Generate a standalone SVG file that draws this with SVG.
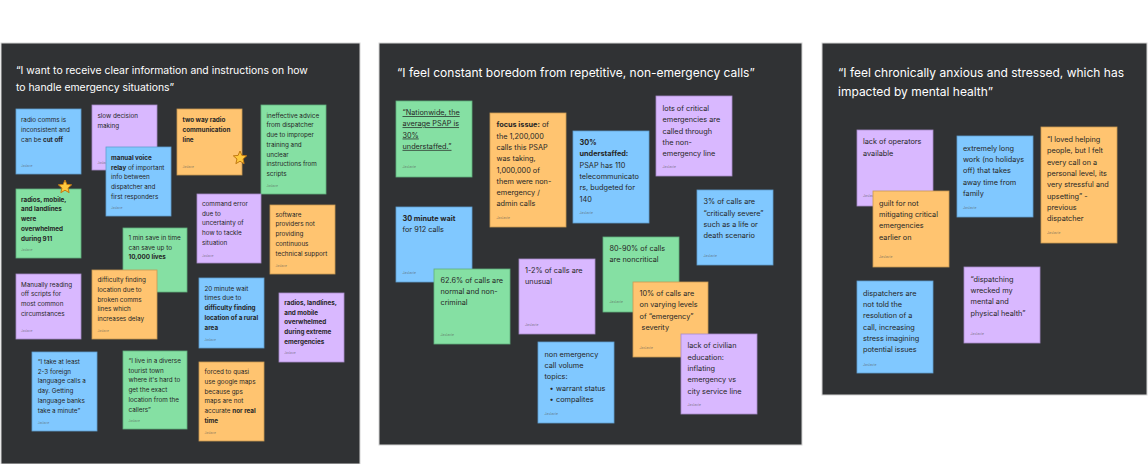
<svg xmlns="http://www.w3.org/2000/svg" width="1148" height="464" viewBox="0 0 1148 464">
<style>
.panel{fill:#303234;stroke:#d4d4d4;stroke-width:1}
.title{fill:#ffffff;font-family:Inter,"Noto Sans",sans-serif}
.tl{font-size:10.4px}
.tm{font-size:12px}
.b{fill:#80c8ff;stroke:#5f9fcf;stroke-width:0.8}
.p{fill:#d9b8ff;stroke:#a78bc9;stroke-width:0.8}
.o{fill:#ffc470;stroke:#c99a52;stroke-width:0.8}
.g{fill:#85e0a3;stroke:#5fb07c;stroke-width:0.8}
.ns{fill:#262626;font-family:Inter,"Noto Sans",sans-serif;font-size:6.3px}
.nm{fill:#262626;font-family:Inter,"Noto Sans",sans-serif;font-size:7.3px}
.bo{font-weight:700}
.lbl{fill:#555;fill-opacity:0.7;font-family:Inter,"Noto Sans",sans-serif;font-size:3px}
.lblm{fill:#555;fill-opacity:0.7;font-family:Inter,"Noto Sans",sans-serif;font-size:3.5px}
.star{fill:#ffc83d;stroke:#c27a12;stroke-width:1;stroke-linejoin:round}
</style>
<defs>
<path id="star" d="M0,-7 L1.88,-2.59 L6.66,-2.16 L3.04,0.99 L4.11,5.66 L0,3.2 L-4.11,5.66 L-3.04,0.99 L-6.66,-2.16 L-1.88,-2.59 Z"/>
</defs>
<rect width="1148" height="464" fill="#ffffff"/>

<!-- LEFT PANEL -->
<g id="panel-left">
<rect class="panel" x="1" y="43" width="359" height="421"/>
<text class="title tl" x="16" y="74.3">“I want to receive clear information and instructions on how<tspan x="16" dy="16.7">to handle emergency situations”</tspan></text>
</g>
<g id="l1"><rect class="b" x="16" y="109" width="65" height="65"/>
<text class="ns" x="21" y="122.3">radio comms is<tspan x="21" dy="9.7">inconsistent and</tspan><tspan x="21" dy="9.7">can be <tspan class="bo">cut off</tspan></tspan></text>
<text class="lbl" x="21" y="167.3">Jaslavie</text></g>
<g id="l2"><rect class="p" x="92" y="105" width="65" height="65"/>
<text class="ns" x="97.5" y="118.3">slow decision<tspan x="97.5" dy="9.7">making</tspan></text>
<text class="lbl" x="97.5" y="164">Jaslavie</text></g>
<g id="l3"><rect class="b" x="106" y="147" width="65" height="69"/>
<text class="ns" x="111" y="160"><tspan class="bo">manual voice</tspan><tspan x="111" dy="9.7"><tspan class="bo">relay</tspan> of important</tspan><tspan x="111" dy="9.7">info between</tspan><tspan x="111" dy="9.7">dispatcher and</tspan><tspan x="111" dy="9.7">first responders</tspan></text>
<text class="lbl" x="111" y="209">Jaslavie</text></g>
<g id="l4"><rect class="o" x="177" y="109" width="65" height="66"/>
<text class="ns bo" x="182.5" y="122.3">two way radio<tspan x="182.5" dy="9.7">communication</tspan><tspan x="182.5" dy="9.7">line</tspan></text>
<text class="lbl" x="182.5" y="167.5">Jaslavie</text></g>
<g id="l5"><rect class="g" x="261" y="105" width="65" height="89"/>
<text class="ns" x="266.5" y="117.7">ineffective advice<tspan x="266.5" dy="9.7">from dispatcher</tspan><tspan x="266.5" dy="9.7">due to improper</tspan><tspan x="266.5" dy="9.7">training and</tspan><tspan x="266.5" dy="9.7">unclear</tspan><tspan x="266.5" dy="9.7">instructions from</tspan><tspan x="266.5" dy="9.7">scripts</tspan></text>
<text class="lbl" x="266.5" y="186.7">Jaslavie</text></g>
<g id="l6"><rect class="g" x="16" y="189" width="65" height="69"/>
<text class="ns bo" x="21" y="201.7">radios, mobile,<tspan x="21" dy="9.7">and landlines</tspan><tspan x="21" dy="9.7">were</tspan><tspan x="21" dy="9.7">overwhelmed</tspan><tspan x="21" dy="9.7">during 911</tspan></text>
<text class="lbl" x="21" y="250.7">Jaslavie</text></g>
<g id="l7"><rect class="p" x="197" y="194" width="64" height="69"/>
<text class="ns" x="202" y="206">command error<tspan x="202" dy="9.7">due to</tspan><tspan x="202" dy="9.7">uncertainty of</tspan><tspan x="202" dy="9.7">how to tackle</tspan><tspan x="202" dy="9.7">situation</tspan></text>
<text class="lbl" x="202" y="256.7">Jaslavie</text></g>
<g id="l8"><rect class="o" x="270" y="205" width="65" height="69"/>
<text class="ns" x="275.5" y="216.7">software<tspan x="275.5" dy="9.7">providers not</tspan><tspan x="275.5" dy="9.7">providing</tspan><tspan x="275.5" dy="9.7">continuous</tspan><tspan x="275.5" dy="9.7">technical support</tspan></text>
<text class="lbl" x="275.5" y="267.3">Jaslavie</text></g>
<g id="l9"><rect class="g" x="123" y="228" width="64" height="64"/>
<text class="ns" x="128.5" y="240">1 min save in time<tspan x="128.5" dy="9.7">can save up to</tspan><tspan x="128.5" dy="9.7" class="bo">10,000 lives</tspan></text></g>
<g id="l10"><rect class="p" x="16" y="274" width="65" height="65"/>
<text class="ns" x="21" y="286.7">Manually reading<tspan x="21" dy="9.7">off scripts for</tspan><tspan x="21" dy="9.7">most common</tspan><tspan x="21" dy="9.7">circumstances</tspan></text>
<text class="lbl" x="21" y="332.3">Jaslavie</text></g>
<g id="l11"><rect class="o" x="92" y="270" width="65" height="69"/>
<text class="ns" x="97.5" y="282.3">difficulty finding<tspan x="97.5" dy="9.7">location due to</tspan><tspan x="97.5" dy="9.7">broken comms</tspan><tspan x="97.5" dy="9.7">lines which</tspan><tspan x="97.5" dy="9.7">increases delay</tspan></text>
<text class="lbl" x="97.5" y="332.3">Jaslavie</text></g>
<g id="l12"><rect class="b" x="199" y="278" width="65" height="70"/>
<text class="ns" x="204.5" y="290.7">20 minute wait<tspan x="204.5" dy="9.7">times due to</tspan><tspan x="204.5" dy="9.7" class="bo">difficulty finding</tspan><tspan x="204.5" dy="9.7" class="bo">location of a rural</tspan><tspan x="204.5" dy="9.7" class="bo">area</tspan></text>
<text class="lbl" x="204.5" y="340.7">Jaslavie</text></g>
<g id="l13"><rect class="p" x="279" y="293" width="65" height="69"/>
<text class="ns bo" x="284.3" y="305">radios, landlines,<tspan x="284.3" dy="9.7">and mobile</tspan><tspan x="284.3" dy="9.7">overwhelmed</tspan><tspan x="284.3" dy="9.7">during extreme</tspan><tspan x="284.3" dy="9.7">emergencies</tspan></text>
<text class="lbl" x="284.3" y="354.3">Jaslavie</text></g>
<g id="l14"><rect class="b" x="32" y="352" width="65" height="79"/>
<text class="ns" x="37.7" y="364">“I take at least<tspan x="37.7" dy="9.7">2-3 foreign</tspan><tspan x="37.7" dy="9.7">language calls a</tspan><tspan x="37.7" dy="9.7">day. Getting</tspan><tspan x="37.7" dy="9.7">language banks</tspan><tspan x="37.7" dy="9.7">take a minute”</tspan></text>
<text class="lbl" x="37.7" y="423.7">Jaslavie</text></g>
<g id="l15"><rect class="g" x="123" y="351" width="64" height="78"/>
<text class="ns" x="128.5" y="363">“I live in a diverse<tspan x="128.5" dy="9.7">tourist town</tspan><tspan x="128.5" dy="9.7">where it's hard to</tspan><tspan x="128.5" dy="9.7">get the exact</tspan><tspan x="128.5" dy="9.7">location from the</tspan><tspan x="128.5" dy="9.7">callers”</tspan></text>
<text class="lbl" x="128.5" y="422.3">Jaslavie</text></g>
<g id="l16"><rect class="o" x="199" y="362" width="65" height="79"/>
<text class="ns" x="204.5" y="374.3">forced to quasi<tspan x="204.5" dy="9.7">use google maps</tspan><tspan x="204.5" dy="9.7">because gps</tspan><tspan x="204.5" dy="9.7">maps are not</tspan><tspan x="204.5" dy="9.7">accurate <tspan class="bo">nor real</tspan></tspan><tspan x="204.5" dy="9.7" class="bo">time</tspan></text>
<text class="lbl" x="204.5" y="433.7">Jaslavie</text></g>
<g id="stars">
<use href="#star" class="star" transform="translate(240,158)"/>
<use href="#star" class="star" transform="translate(65,187)"/>
</g>

<!-- MIDDLE PANEL -->
<g id="panel-middle">
<rect class="panel" x="379" y="43" width="423" height="402"/>
<text class="title tm" x="397" y="77.3">“I feel constant boredom from repetitive, non-emergency calls”</text>
</g>
<g id="m1"><rect class="g" x="396" y="101" width="76" height="76"/>
<text class="nm" x="402.5" y="115" text-decoration="underline">“Nationwide, the<tspan x="402.5" dy="11.3">average PSAP is</tspan><tspan x="402.5" dy="11.3">30%</tspan><tspan x="402.5" dy="11.3">understaffed.”</tspan></text>
<text class="lblm" x="402.5" y="167.7">Jaslavie</text></g>
<g id="m2"><rect class="o" x="490" y="113" width="76" height="114"/>
<text class="nm" x="496.5" y="127.3"><tspan class="bo">focus issue:</tspan> of<tspan x="496.5" dy="11.3">the 1,200,000</tspan><tspan x="496.5" dy="11.3">calls this PSAP</tspan><tspan x="496.5" dy="11.3">was taking,</tspan><tspan x="496.5" dy="11.3">1,000,000 of</tspan><tspan x="496.5" dy="11.3">them were non-</tspan><tspan x="496.5" dy="11.3">emergency /</tspan><tspan x="496.5" dy="11.3">admin calls</tspan></text>
<text class="lblm" x="496.5" y="219.3">Jaslavie</text></g>
<g id="m3"><rect class="b" x="573" y="131" width="76" height="92"/>
<text class="nm" x="579.5" y="145"><tspan class="bo">30%</tspan><tspan x="579.5" dy="11.3" class="bo">understaffed:</tspan><tspan x="579.5" dy="11.3">PSAP has 110</tspan><tspan x="579.5" dy="11.3">telecommunicato</tspan><tspan x="579.5" dy="11.3">rs, budgeted for</tspan><tspan x="579.5" dy="11.3">140</tspan></text>
<text class="lblm" x="579.5" y="214">Jaslavie</text></g>
<g id="m4"><rect class="p" x="656" y="96" width="76" height="80"/>
<text class="nm" x="662.5" y="111">lots of critical<tspan x="662.5" dy="11.3">emergencies are</tspan><tspan x="662.5" dy="11.3">called through</tspan><tspan x="662.5" dy="11.3">the non-</tspan><tspan x="662.5" dy="11.3">emergency line</tspan></text>
<text class="lblm" x="662.5" y="167.7">Jaslavie</text></g>
<g id="m5"><rect class="b" x="396" y="207" width="76" height="75"/>
<text class="nm" x="402.5" y="221"><tspan class="bo">30 minute wait</tspan><tspan x="402.5" dy="11.3">for 912 calls</tspan></text>
<text class="lblm" x="402.5" y="273.7">Jaslavie</text></g>
<g id="m6"><rect class="b" x="697" y="190" width="76" height="75"/>
<text class="nm" x="703.5" y="204.3">3% of calls are<tspan x="703.5" dy="11.3">“critically severe”</tspan><tspan x="703.5" dy="11.3">such as a life or</tspan><tspan x="703.5" dy="11.3">death scenario</tspan></text>
<text class="lblm" x="703.5" y="257.3">Jaslavie</text></g>
<g id="m7"><rect class="g" x="434" y="269" width="76" height="75"/>
<text class="nm" x="440.5" y="282.7">62.6% of calls are<tspan x="440.5" dy="11.3">normal and non-</tspan><tspan x="440.5" dy="11.3">criminal</tspan></text>
<text class="lblm" x="440.5" y="335.7">Jaslavie</text></g>
<g id="m8"><rect class="p" x="519" y="259" width="76" height="75"/>
<text class="nm" x="525" y="272.7">1-2% of calls are<tspan x="525" dy="11.3">unusual</tspan></text>
<text class="lblm" x="525" y="325.7">Jaslavie</text></g>
<g id="m9"><rect class="g" x="603" y="237" width="76" height="75"/>
<text class="nm" x="609.5" y="250.7">80-90% of calls<tspan x="609.5" dy="11.3">are noncritical</tspan></text>
<text class="lblm" x="609.5" y="303.3">Jaslavie</text></g>
<g id="m10"><rect class="o" x="633" y="282" width="75" height="75"/>
<text class="nm" x="639.5" y="296">10% of calls are<tspan x="639.5" dy="11.3">on varying levels</tspan><tspan x="639.5" dy="11.3">of “emergency”</tspan><tspan x="639.5" dy="11.3"> severity</tspan></text>
<text class="lblm" x="639.5" y="349">Jaslavie</text></g>
<g id="m11"><rect class="p" x="681" y="334" width="76" height="80"/>
<text class="nm" x="687.5" y="348.3">lack of civilian<tspan x="687.5" dy="11.3">education:</tspan><tspan x="687.5" dy="11.3">inflating</tspan><tspan x="687.5" dy="11.3">emergency vs</tspan><tspan x="687.5" dy="11.3">city service line</tspan></text>
<text class="lblm" x="687.5" y="406">Jaslavie</text></g>
<g id="m12"><rect class="b" x="538" y="342" width="76" height="81"/>
<text class="nm" x="544.5" y="356.7">non emergency<tspan x="544.5" dy="11.3">call volume</tspan><tspan x="544.5" dy="11.3">topics:</tspan><tspan x="549.5" dy="11.3">•</tspan><tspan x="556" dy="0">warrant status</tspan><tspan x="549.5" dy="11.3">•</tspan><tspan x="556" dy="0">compalites</tspan></text>
<text class="lblm" x="544.5" y="414.7">Jaslavie</text></g>

<!-- RIGHT PANEL -->
<g id="panel-right">
<rect class="panel" x="822" y="43" width="325" height="352"/>
<text class="title tm" x="838" y="76.7">“I feel chronically anxious and stressed, which has<tspan x="838" dy="19">impacted by mental health”</tspan></text>
</g>
<g id="r1"><rect class="p" x="857" y="130" width="76" height="76"/>
<text class="nm" x="863" y="144.3">lack of operators<tspan x="863" dy="11.3">available</tspan></text>
<text class="lblm" x="863" y="197">Jaslavie</text></g>
<g id="r2"><rect class="o" x="873" y="191" width="76" height="76"/>
<text class="nm" x="879" y="205.7">guilt for not<tspan x="879" dy="11.3">mitigating critical</tspan><tspan x="879" dy="11.3">emergencies</tspan><tspan x="879" dy="11.3">earlier on</tspan></text>
<text class="lblm" x="879" y="258.3">Jaslavie</text></g>
<g id="r3"><rect class="b" x="957" y="136" width="76" height="81"/>
<text class="nm" x="963" y="150.7">extremely long<tspan x="963" dy="11.3">work (no holidays</tspan><tspan x="963" dy="11.3">off) that takes</tspan><tspan x="963" dy="11.3">away time from</tspan><tspan x="963" dy="11.3">family</tspan></text>
<text class="lblm" x="963" y="208.7">Jaslavie</text></g>
<g id="r4"><rect class="o" x="1041" y="127" width="76" height="116"/>
<text class="nm" x="1047" y="142">“I loved helping<tspan x="1047" dy="11.3">people, but I felt</tspan><tspan x="1047" dy="11.3">every call on a</tspan><tspan x="1047" dy="11.3">personal level, its</tspan><tspan x="1047" dy="11.3">very stressful and</tspan><tspan x="1047" dy="11.3">upsetting” -</tspan><tspan x="1047" dy="11.3">previous</tspan><tspan x="1047" dy="11.3">dispatcher</tspan></text>
<text class="lblm" x="1047" y="234.3">Jaslavie</text></g>
<g id="r5"><rect class="p" x="964" y="267" width="76" height="76"/>
<text class="nm" x="970.5" y="281.7">“dispatching<tspan x="970.5" dy="11.3">wrecked my</tspan><tspan x="970.5" dy="11.3">mental and</tspan><tspan x="970.5" dy="11.3">physical health”</tspan></text>
<text class="lblm" x="970.5" y="334.7">Jaslavie</text></g>
<g id="r6"><rect class="b" x="857" y="281" width="76" height="92"/>
<text class="nm" x="863" y="295.7">dispatchers are<tspan x="863" dy="11.3">not told the</tspan><tspan x="863" dy="11.3">resolution of a</tspan><tspan x="863" dy="11.3">call, increasing</tspan><tspan x="863" dy="11.3">stress imagining</tspan><tspan x="863" dy="11.3">potential issues</tspan></text>
<text class="lblm" x="863" y="365.7">Jaslavie</text></g>
<g id="connectors"></g>
</svg>
